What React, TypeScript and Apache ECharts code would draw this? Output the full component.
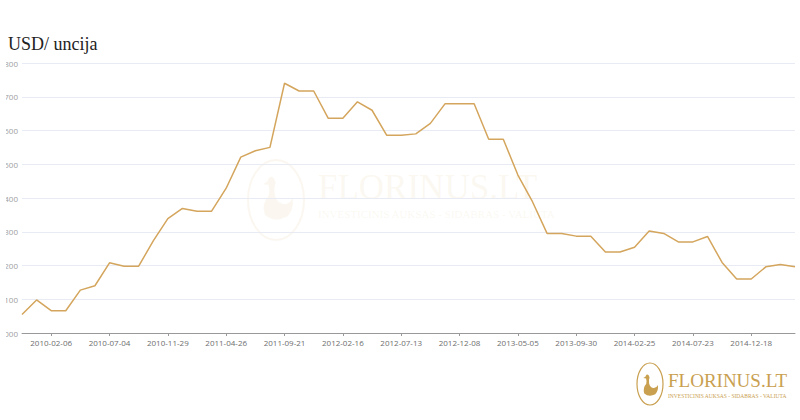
import React, { useEffect, useRef } from "react";
import * as echarts from "echarts";

const categories = [
  "2009-11-24","2009-12-31","2010-02-06","2010-03-15","2010-04-21","2010-05-28",
  "2010-07-04","2010-08-10","2010-09-16","2010-10-23","2010-11-29","2011-01-05",
  "2011-02-11","2011-03-20","2011-04-26","2011-06-02","2011-07-09","2011-08-15",
  "2011-09-21","2011-10-28","2011-12-04","2012-01-10","2012-02-16","2012-03-24",
  "2012-04-30","2012-06-06","2012-07-13","2012-08-19","2012-09-25","2012-11-01",
  "2012-12-08","2013-01-14","2013-02-20","2013-03-29","2013-05-05","2013-06-11",
  "2013-07-18","2013-08-24","2013-09-30","2013-11-06","2013-12-13","2014-01-19",
  "2014-02-25","2014-04-03","2014-05-10","2014-06-16","2014-07-23","2014-08-29",
  "2014-10-05","2014-11-11","2014-12-18","2015-01-24","2015-03-02","2015-04-08",
];

const prices = [
  1055, 1098, 1066, 1066, 1127, 1140, 1208, 1198, 1198, 1273,
  1339, 1369, 1361, 1361, 1429, 1521, 1540, 1550, 1740, 1717,
  1717, 1636, 1636, 1685, 1660, 1586, 1586, 1590, 1621, 1679,
  1679, 1679, 1574, 1574, 1468, 1389, 1295, 1295, 1287, 1287,
  1240, 1240, 1254, 1302, 1295, 1270, 1270, 1286, 1209, 1160,
  1160, 1196, 1203, 1196,
];

const titleText = "USD/ uncija";
const brandName = "FLORINUS.LT";
const brandTagline = "INVESTICINIS AUKSAS - SIDABRAS - VALIUTA";

const duckPath =
  "M30 22 L20 27 L32 28 Q36 36 33 46 Q16 60 24 78 Q45 92 74 81 Q89 70 86 50 Q78 62 64 60 Q50 57 46 45 Q44 32 48 24 Q44 13 36 15 Q31 17 30 22 Z";

let registered = false;
function ensureShapes() {
  if (registered) return;
  registered = true;
  echarts.graphic.registerShape("duck", echarts.graphic.extendPath(duckPath, {}) as any);
}

export default function App() {
  const ref = useRef<HTMLDivElement>(null);

  useEffect(() => {
    if (!ref.current) return;
    ensureShapes();
    const chart = echarts.init(ref.current, undefined, { renderer: "svg" });
    const gold = "#d4a55c";
    const ox = 6;
    const wm = "rgba(214,178,110,0.10)";
    chart.setOption({
      animation: false,
      title: {
        text: titleText,
        left: 8 - ox,
        top: 35,
        padding: 0,
        textStyle: {
          fontFamily: "Liberation Serif",
          fontSize: 18,
          fontWeight: "normal",
          color: "#222",
        },
      },
      grid: {
        left: 22 - ox,
        right: 5,
        top: 63,
        bottom: 87,
        containLabel: false,
        outerBoundsMode: "none",
      },
      xAxis: {
        type: "category",
        data: categories,
        boundaryGap: false,
        axisLine: { lineStyle: { color: "#999", width: 1 } },
        axisTick: {
          show: true,
          interval: (i: number) => i % 4 === 2,
          length: 3,
          lineStyle: { color: "#999" },
        },
        axisLabel: {
          interval: (i: number) => i % 4 === 2,
          color: "#6e6e6e",
          fontSize: 8,
          fontFamily: "Open Sans",
          margin: 5,
        },
        splitLine: { show: false },
      },
      yAxis: {
        type: "value",
        min: 1000,
        max: 1800,
        interval: 100,
        axisLine: { show: false },
        axisTick: { show: false },
        axisLabel: {
          color: "#a0a0a0",
          fontSize: 8,
          fontFamily: "Open Sans",
          margin: 4,
          formatter: (v: number) => String(v),
        },
        splitLine: { lineStyle: { color: "#e8ebf3", width: 1 } },
      },
      graphic: [
        {
          type: "group",
          silent: true,
          z: -1,
          children: [
            {
              type: "ellipse",
              shape: { cx: 276 - ox, cy: 200, rx: 28, ry: 40 },
              style: { fill: "none", stroke: wm, lineWidth: 2 },
            },
            {
              type: "duck",
              x: 254 - ox,
              y: 168,
              scaleX: 0.45,
              scaleY: 0.6,
              style: { fill: wm },
            },
            {
              type: "text",
              x: 318 - ox,
              y: 170,
              style: {
                text: brandName,
                font: "normal 35px 'Liberation Serif'",
                fill: wm,
              },
            },
            {
              type: "text",
              x: 318 - ox,
              y: 208,
              style: {
                text: brandTagline,
                font: "normal 11px 'Liberation Serif'",
                fill: wm,
              },
            },
          ],
        },
        {
          type: "group",
          silent: true,
          children: [
            {
              type: "ellipse",
              shape: { cx: 650 - ox, cy: 384, rx: 13, ry: 21 },
              style: { fill: "none", stroke: "#c9a050", lineWidth: 1.2 },
            },
            {
              type: "duck",
              x: 639 - ox,
              y: 370,
              scaleX: 0.22,
              scaleY: 0.3,
              style: { fill: "#c9a050" },
            },
            {
              type: "text",
              x: 668 - ox,
              y: 371,
              style: {
                text: brandName,
                font: "normal 19px 'Liberation Serif'",
                fill: "#c9a050",
              },
            },
            {
              type: "text",
              x: 668 - ox,
              y: 393,
              style: {
                text: brandTagline,
                font: "normal 5.5px 'Liberation Serif'",
                fill: "#c9a050",
              },
            },
          ],
        },
      ],
      series: [
        {
          type: "line",
          data: prices,
          symbol: "none",
          lineStyle: { color: gold, width: 1.5 },
          itemStyle: { color: gold },
        },
      ],
    });
    return () => chart.dispose();
  }, []);

  return (
    <div
      ref={ref}
      style={{ position: "absolute", left: 6, top: 0, width: 794, height: 420 }}
    />
  );
}
